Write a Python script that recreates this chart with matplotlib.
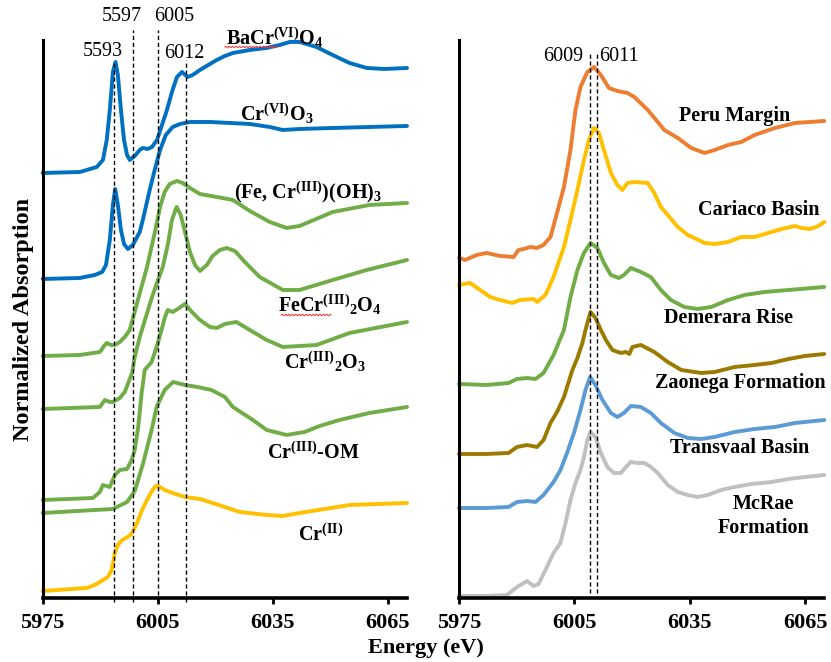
import numpy as np
import matplotlib.pyplot as plt

plt.rcParams['font.family'] = 'Liberation Serif'
plt.rcParams['mathtext.fontset'] = 'custom'
plt.rcParams['mathtext.rm'] = 'Liberation Serif:bold'
plt.rcParams['mathtext.it'] = 'Liberation Serif:bold'
plt.rcParams['mathtext.bf'] = 'Liberation Serif:bold'
plt.rcParams['mathtext.default'] = 'rm'

# ---- reference standards (energy in eV, stacked normalized absorption) ----
bacro4_e = [5975, 5984.7, 5989.1, 5990.7, 5991.7, 5992.5, 5993.3, 5994.0, 5994.6, 5995.4,
            5996.2, 5997.0, 5997.7, 5999.0, 6000.3, 6001.1, 6002.4, 6003.5, 6004.8, 6006.1,
            6007.4, 6008.7, 6010.0, 6011.3, 6012.8, 6014.1, 6016.0, 6018.6, 6020.4, 6022.5,
            6024.6, 6029.0, 6033.4, 6036.8, 6039.4, 6042.0, 6046.4, 6050.6, 6055.0, 6059.5,
            6064.1, 6070]
bacro4_y = [4.25, 4.26, 4.31, 4.38, 4.58, 4.88, 5.26, 5.36, 5.23, 4.88,
            4.58, 4.43, 4.38, 4.42, 4.48, 4.50, 4.49, 4.51, 4.58, 4.73,
            4.88, 5.06, 5.21, 5.26, 5.21, 5.23, 5.28, 5.34, 5.38, 5.42,
            5.45, 5.48, 5.50, 5.53, 5.56, 5.56, 5.51, 5.43, 5.35, 5.30,
            5.29, 5.30]

cro3_e = [5975, 5984.7, 5988.6, 5990.5, 5991.5, 5992.5, 5993.3, 5993.9, 5994.6, 5995.4,
          5996.2, 5997.2, 5998.5, 6000.3, 6001.1, 6002.9, 6004.2, 6005.6, 6007.1, 6008.9,
          6010.8, 6013.4, 6018.6, 6023.8, 6029.0, 6034.2, 6037.6, 6042.0, 6050.6, 6060.2,
          6070]
cro3_y = [3.19, 3.20, 3.23, 3.26, 3.33, 3.58, 3.93, 4.09, 3.93, 3.68,
          3.54, 3.49, 3.53, 3.66, 3.78, 4.08, 4.28, 4.48, 4.63, 4.71,
          4.74, 4.76, 4.76, 4.75, 4.74, 4.71, 4.68, 4.69, 4.70, 4.71,
          4.72]

feoh_e = [5975, 5984.7, 5989.9, 5991.0, 5991.7, 5992.8, 5993.8, 5995.1, 5996.4, 5997.7,
          5999.6, 6002.2, 6004.2, 6005.6, 6006.8, 6008.1, 6010.0, 6011.5, 6013.4, 6016.0,
          6020.4, 6024.6, 6029.0, 6034.2, 6038.6, 6042.0, 6050.6, 6060.2, 6070]
feoh_y = [2.42, 2.43, 2.46, 2.52, 2.55, 2.53, 2.53, 2.56, 2.61, 2.68,
          2.95, 3.31, 3.65, 3.91, 4.06, 4.14, 4.17, 4.15, 4.10, 4.04,
          4.01, 3.98, 3.87, 3.76, 3.70, 3.72, 3.86, 3.93, 3.95]

chromite_e = [5975, 5989.9, 5991.2, 5992.5, 5993.3, 5995.1, 5996.4, 5998.3, 5999.0, 6000.3,
              6001.1, 6003.5, 6004.8, 6006.3, 6007.6, 6008.7, 6009.9, 6011.0, 6012.1, 6013.4,
              6014.7, 6016.0, 6017.8, 6019.3, 6021.2, 6023.0, 6025.1, 6027.7, 6031.6, 6037.6,
              6042.0, 6050.6, 6059.5, 6070]
chromite_y = [1.89, 1.91, 1.98, 1.96, 1.96, 2.00, 2.06, 2.25, 2.41, 2.61,
              2.71, 3.01, 3.15, 3.31, 3.53, 3.78, 3.91, 3.83, 3.66, 3.46,
              3.33, 3.27, 3.33, 3.42, 3.48, 3.50, 3.47, 3.36, 3.21, 3.08,
              3.08, 3.18, 3.28, 3.38]

cr2o3_e = [5975, 5988.1, 5989.9, 5990.7, 5992.5, 5993.8, 5995.1, 5997.0, 5998.2, 5999.0,
           5999.9, 6000.8, 6001.6, 6003.4, 6004.7, 6006.0, 6006.8, 6007.6, 6008.9, 6010.2,
           6012.1, 6013.9, 6016.0, 6018.6, 6020.4, 6022.5, 6025.5, 6029.0, 6033.4, 6037.6,
           6046.4, 6055.0, 6070]
cr2o3_y = [0.98, 1.00, 1.06, 1.13, 1.11, 1.23, 1.28, 1.29, 1.38, 1.48,
           1.71, 2.05, 2.28, 2.36, 2.51, 2.68, 2.80, 2.88, 2.86, 2.89,
           2.94, 2.86, 2.78, 2.71, 2.70, 2.74, 2.76, 2.68, 2.58, 2.51,
           2.53, 2.65, 2.76]

crom_e = [5975, 5993.3, 5997.0, 5999.0, 6001.2, 6003.4, 6004.7, 6006.8, 6009.0, 6012.1,
          6015.4, 6019.0, 6022.5, 6024.6, 6029.8, 6033.4, 6038.6, 6043.3, 6047.2, 6052.4,
          6060.2, 6070]
crom_y = [0.85, 0.89, 0.96, 1.07, 1.35, 1.68, 1.91, 2.08, 2.16, 2.13,
          2.11, 2.08, 2.01, 1.91, 1.78, 1.68, 1.63, 1.66, 1.72, 1.78,
          1.85, 1.91]

crii_e = [5975, 5986.5, 5988.6, 5989.9, 5992.0, 5993.0, 5993.8, 5994.6, 5995.7, 5997.2,
          5998.3, 5999.6, 6000.9, 6002.2, 6003.5, 6004.5, 6005.6, 6006.8, 6008.9, 6012.1,
          6016.0, 6019.3, 6026.4, 6033.4, 6037.6, 6042.0, 6055.0, 6070]
crii_y = [0.07, 0.10, 0.13, 0.16, 0.21, 0.28, 0.45, 0.53, 0.58, 0.61,
          0.65, 0.75, 0.88, 0.98, 1.07, 1.12, 1.11, 1.08, 1.05, 1.01,
          0.99, 0.95, 0.86, 0.83, 0.82, 0.85, 0.93, 0.95]

# ---- sediment / shale samples ----
peru_e = [5975, 5976.6, 5979.6, 5982.2, 5985.7, 5989.2, 5990.5, 5991.8, 5993.6, 5995.3,
          5997.0, 5998.8, 6000.5, 6002.3, 6004.0, 6005.3, 6006.6, 6008.4, 6010.1, 6011.9,
          6014.0, 6016.2, 6018.8, 6020.6, 6024.1, 6026.7, 6028.4, 6031.9, 6035.4, 6038.9,
          6041.5, 6045.0, 6048.4, 6051.9, 6057.2, 6062.4, 6070]
peru_y = [3.40, 3.38, 3.43, 3.45, 3.42, 3.41, 3.48, 3.49, 3.51, 3.50,
          3.53, 3.61, 3.85, 4.11, 4.48, 4.88, 5.11, 5.26, 5.31, 5.23,
          5.10, 5.07, 5.05, 5.01, 4.88, 4.76, 4.68, 4.60, 4.50, 4.45,
          4.48, 4.53, 4.56, 4.63, 4.70, 4.75, 4.77]

cariaco_e = [5975, 5977.9, 5980.5, 5983.1, 5985.7, 5988.8, 5990.9, 5994.4, 5995.3, 5997.5,
             5999.6, 6002.3, 6004.0, 6005.8, 6007.5, 6008.8, 6010.1, 6011.4, 6012.7, 6014.5,
             6016.2, 6017.5, 6018.8, 6020.6, 6024.1, 6025.8, 6027.5, 6029.3, 6031.9, 6034.5,
             6036.2, 6038.9, 6041.5, 6045.0, 6048.4, 6051.9, 6055.4, 6058.9, 6062.4, 6064.1,
             6066.3, 6068.5, 6070]
cariaco_y = [3.13, 3.15, 3.08, 3.01, 2.98, 2.95, 2.98, 2.99, 2.96, 3.03,
             3.21, 3.51, 3.78, 4.08, 4.38, 4.58, 4.70, 4.65, 4.48, 4.25,
             4.13, 4.08, 4.15, 4.16, 4.15, 4.05, 3.91, 3.83, 3.71, 3.63,
             3.60, 3.55, 3.54, 3.56, 3.61, 3.61, 3.65, 3.69, 3.72, 3.70,
             3.69, 3.72, 3.76]

demerara_e = [5975, 5982.2, 5987.9, 5990.1, 5992.7, 5994.9, 5997.0, 5999.6, 6002.3, 6004.0,
              6005.8, 6007.5, 6009.2, 6011.0, 6012.7, 6014.5, 6016.6, 6017.9, 6019.7, 6022.3,
              6024.9, 6027.5, 6030.1, 6033.6, 6037.1, 6040.6, 6045.0, 6049.3, 6054.5, 6060.7,
              6070]
demerara_y = [2.14, 2.13, 2.15, 2.19, 2.20, 2.19, 2.25, 2.43, 2.68, 3.01,
              3.28, 3.45, 3.55, 3.50, 3.35, 3.23, 3.20, 3.23, 3.30, 3.26,
              3.21, 3.08, 2.98, 2.91, 2.89, 2.91, 2.98, 3.03, 3.06, 3.08,
              3.11]

zaonega_e = [5975, 5982.2, 5987.9, 5990.1, 5992.7, 5995.3, 5997.0, 5998.8, 6000.5, 6002.3,
             6004.5, 6005.8, 6007.1, 6007.9, 6009.2, 6010.5, 6011.9, 6013.2, 6014.9, 6017.1,
             6018.4, 6019.3, 6020.1, 6022.3, 6025.8, 6029.3, 6032.8, 6038.0, 6041.5, 6046.7,
             6051.9, 6056.3, 6060.7, 6065.0, 6070]
zaonega_y = [1.44, 1.44, 1.45, 1.51, 1.53, 1.51, 1.58, 1.75, 1.86, 2.01,
             2.28, 2.40, 2.55, 2.68, 2.86, 2.80, 2.68, 2.58, 2.48, 2.45,
             2.46, 2.44, 2.51, 2.53, 2.46, 2.36, 2.28, 2.25, 2.26, 2.31,
             2.33, 2.35, 2.39, 2.42, 2.44]

transvaal_e = [5975, 5982.2, 5987.9, 5990.1, 5992.7, 5994.9, 5997.0, 5999.6, 6001.4, 6003.1,
               6004.9, 6006.6, 6007.9, 6009.1, 6010.5, 6012.3, 6014.5, 6016.2, 6017.9, 6019.7,
               6022.3, 6024.9, 6027.5, 6031.0, 6034.5, 6038.0, 6041.5, 6046.7, 6051.9, 6057.2,
               6062.4, 6070]
transvaal_y = [0.90, 0.90, 0.91, 0.96, 0.97, 0.96, 1.03, 1.16, 1.28, 1.45,
               1.65, 1.88, 2.08, 2.21, 2.13, 1.98, 1.85, 1.81, 1.85, 1.92,
               1.91, 1.85, 1.75, 1.65, 1.60, 1.59, 1.61, 1.66, 1.69, 1.71,
               1.75, 1.78]

mcrae_e = [5975, 5982.2, 5987.5, 5990.1, 5992.7, 5994.4, 5995.7, 5997.5, 5999.6, 6001.4,
           6002.7, 6004.0, 6005.3, 6006.6, 6007.5, 6008.4, 6009.2, 6010.5, 6011.9, 6013.6,
           6015.3, 6017.1, 6018.4, 6019.7, 6021.4, 6023.2, 6024.9, 6026.7, 6029.3, 6031.9,
           6034.5, 6037.1, 6039.7, 6043.2, 6046.7, 6051.1, 6056.3, 6060.7, 6065.0, 6070]
mcrae_y = [0.02, 0.02, 0.03, 0.11, 0.17, 0.12, 0.14, 0.28, 0.45, 0.55,
           0.75, 0.98, 1.15, 1.28, 1.41, 1.58, 1.66, 1.61, 1.45, 1.31,
           1.25, 1.25, 1.31, 1.36, 1.35, 1.35, 1.31, 1.25, 1.13, 1.06,
           1.03, 1.01, 1.03, 1.08, 1.11, 1.14, 1.16, 1.19, 1.21, 1.23]

std_labels = [r'BaCr$^{(VI)}$O$_4$', r'Cr$^{(VI)}$O$_3$', r'(Fe, Cr$^{(III)}$)(OH)$_3$',
              r'FeCr$^{(III)}$$_2$O$_4$', r'Cr$^{(III)}$$_2$O$_3$', r'Cr$^{(III)}$-OM',
              r'Cr$^{(II)}$']
sample_labels = ['Peru Margin', 'Cariaco Basin', 'Demerara Rise', 'Zaonega Formation',
                 'Transvaal Basin', 'McRae\nFormation']

# pre-edge / edge features marked on each panel
std_marks = [5993.5, 5998.5, 6005, 6012.3]
std_mark_text = ['5593', '5597', '6005', '6012']
sample_marks = [6009, 6011]
sample_mark_text = ['6009', '6011']

xticks = [5975, 6005, 6035, 6065]

BLUE = '#0070C0'
GREEN = '#70AD47'
GOLD = '#FFC000'

fig = plt.figure(figsize=(8.31, 6.62), dpi=100)
ax1 = fig.add_axes([0.0514, 0.0967, 0.4384, 0.8429])
ax2 = fig.add_axes([0.5523, 0.0967, 0.4396, 0.8429])

lw = 2.8
std_curves = [(bacro4_e, bacro4_y, BLUE), (cro3_e, cro3_y, BLUE), (feoh_e, feoh_y, GREEN),
              (chromite_e, chromite_y, GREEN), (cr2o3_e, cr2o3_y, GREEN),
              (crom_e, crom_y, GREEN), (crii_e, crii_y, GOLD)]
for e, y, c in std_curves:
    ax1.plot(e, y, color=c, lw=lw, solid_joinstyle='round', solid_capstyle='round', clip_on=False)

sample_curves = [(peru_e, peru_y, '#ED7D31'), (cariaco_e, cariaco_y, '#FFC000'),
                 (demerara_e, demerara_y, '#70AD47'), (zaonega_e, zaonega_y, '#9C7A00'),
                 (transvaal_e, transvaal_y, '#5B9BD5'), (mcrae_e, mcrae_y, '#C0C0C0')]
for e, y, c in sample_curves:
    ax2.plot(e, y, color=c, lw=lw, solid_joinstyle='round', solid_capstyle='round', clip_on=False)

# dashed guide lines
dash = dict(color='black', lw=1.0, ls=(0, (3, 2)), clip_on=False, zorder=5)
std_mark_top = [5.36, 5.68, 5.68, 5.38]
for xm, top in zip(std_marks, std_mark_top):
    ax1.plot([xm, xm], [-0.04, top], **dash)
for xm in sample_marks:
    ax2.plot([xm, xm], [0.05, 5.45], **dash)

num_kw = dict(fontsize=14.5, ha='center', va='center')
ax1.text(5990.7, 5.46, std_mark_text[0], **num_kw)
ax1.text(5995.6, 5.81, std_mark_text[1], **num_kw)
ax1.text(6009.4, 5.81, std_mark_text[2], **num_kw)
ax1.text(6011.8, 5.44, std_mark_text[3], **num_kw)
ax2.text(6002.2, 5.41, sample_mark_text[0], **num_kw)
ax2.text(6016.6, 5.41, sample_mark_text[1], **num_kw)

lab_kw = dict(fontsize=14.5, fontweight='bold', ha='center', va='center')
std_label_pos = [(6035.5, 5.60), (6036.1, 4.84), (6044.2, 4.06), (6049.9, 2.93),
                 (6048.6, 2.36), (6045.5, 1.45), (6047.6, 0.63)]
for (lx, ly), s in zip(std_label_pos, std_labels):
    ax1.text(lx, ly, s, **lab_kw)

# spell-check squiggles under two of the formula labels
for x0, x1, yb in [(6022.5, 6036.3, 5.51), (6037.2, 6050.2, 2.83)]:
    xs = np.linspace(x0, x1, 80)
    ax1.plot(xs, yb + 0.008 * np.sin((xs - x0) * 7.0), color='#FF3030', lw=0.7,
             clip_on=False, zorder=6)

sample_label_pos = [(6046.6, 4.82), (6053.0, 3.88), (6045.0, 2.80), (6048.1, 2.15),
                    (6047.9, 1.50), (6054.2, 0.82)]
for (lx, ly), s in zip(sample_label_pos, sample_labels):
    ax2.text(lx, ly, s, linespacing=1.25, **lab_kw)

for ax in (ax1, ax2):
    ax.set_xlim(5975, 6070)
    ax.set_ylim(0, 5.58)
    for side in ('top', 'right'):
        ax.spines[side].set_visible(False)
    ax.spines['left'].set_linewidth(2.2)
    ax.spines['bottom'].set_linewidth(2.6)
    ax.set_yticks([])
    ax.set_xticks(xticks)
    ax.tick_params(axis='x', direction='out', length=4, width=2, pad=7)
    for t in ax.get_xticklabels():
        t.set_fontsize(16)
        t.set_fontweight('bold')

ax1.set_ylabel('Normalized Absorption', fontsize=17.5, fontweight='bold', labelpad=6)
fig.text(0.513, 0.021, 'Energy (eV)', fontsize=16, fontweight='bold', ha='center', va='center')

fig.savefig('out.png', dpi=100)
